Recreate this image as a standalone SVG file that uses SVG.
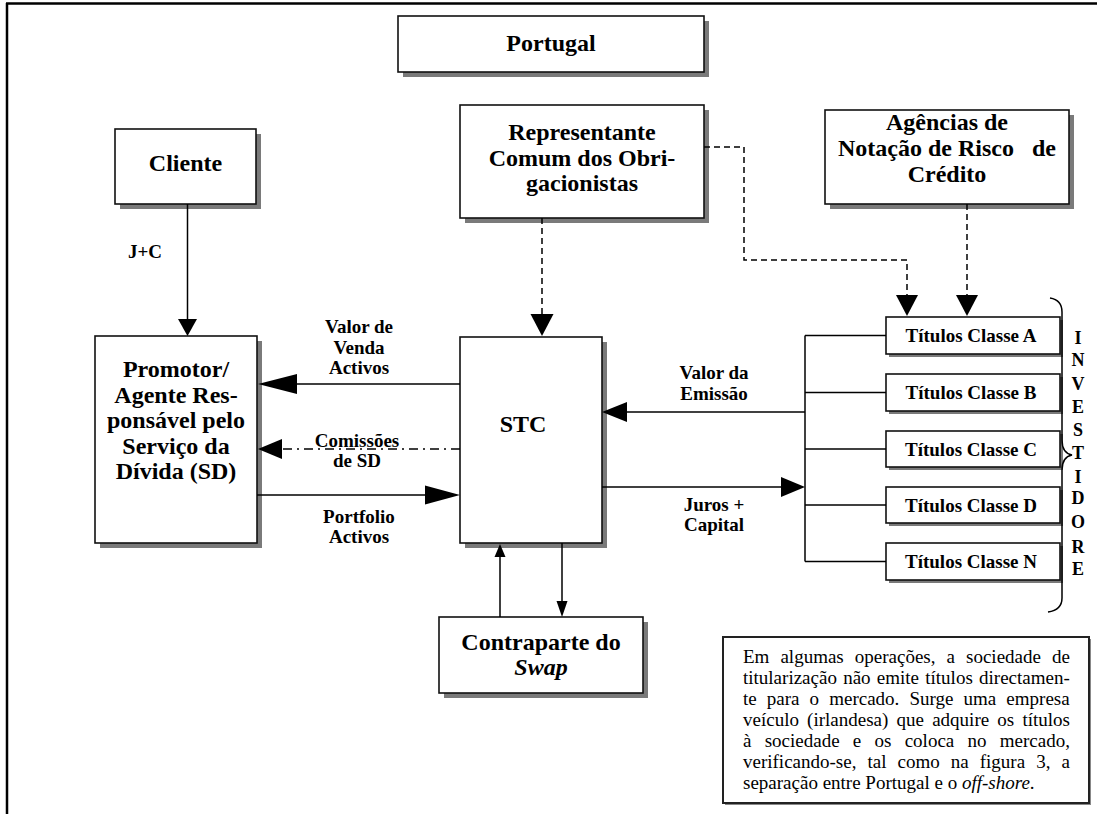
<svg xmlns="http://www.w3.org/2000/svg" width="1097" height="814" viewBox="0 0 1097 814">
<defs>
<style>
.box{fill:#fff;stroke:#111;stroke-width:1.6}
.sh{fill:#7a7a7a}
.t{font-family:"Liberation Serif","Times New Roman",serif;font-weight:bold;fill:#000;text-anchor:middle}
.h{font-size:24px}
.l{font-size:19px}
.ln{fill:none;stroke:#000;stroke-width:1.5}
.dash{stroke-dasharray:6,4}
.dd{stroke-dasharray:9,5,2,5}
.ah{fill:#000}
.note{font-family:"Liberation Serif","Times New Roman",serif;font-size:19px;fill:#000}
</style>
</defs>
<rect width="1097" height="814" fill="#fff"/>
<path d="M6,3.5 H1097 M7,3 V814" stroke="#000" stroke-width="2.5" fill="none"/>

<g id="portugal">
<rect class="sh" x="403" y="21" width="306" height="56"/>
<rect class="box" x="398" y="16" width="306" height="56"/>
<text class="t h" x="551" y="51">Portugal</text>
</g>

<g id="cliente">
<rect class="sh" x="120" y="134" width="141" height="75"/>
<rect class="box" x="115" y="129" width="141" height="75"/>
<text class="t h" x="185.5" y="171">Cliente</text>
</g>

<g id="representante">
<rect class="sh" x="465" y="110" width="244" height="113"/>
<rect class="box" x="460" y="105" width="244" height="113"/>
<text class="t h" x="582" y="140">Representante</text>
<text class="t h" x="582" y="165.5">Comum dos Obri-</text>
<text class="t h" x="582" y="191">gacionistas</text>
</g>

<g id="agencias">
<rect class="sh" x="830" y="115" width="244" height="94"/>
<rect class="box" x="825" y="110" width="244" height="94"/>
<text class="t h" x="947" y="130">Agências de</text>
<text class="t h" x="947" y="156" xml:space="preserve">Notação de Risco   de</text>
<text class="t h" x="947" y="182">Crédito</text>
</g>

<g id="promotor">
<rect class="sh" x="100" y="341" width="162" height="207"/>
<rect class="box" x="95" y="336" width="162" height="207"/>
<text class="t h" x="176" y="377">Promotor/</text>
<text class="t h" x="176" y="402.5">Agente Res-</text>
<text class="t h" x="176" y="428">ponsável pelo</text>
<text class="t h" x="176" y="453.5">Serviço da</text>
<text class="t h" x="176" y="479">Dívida (SD)</text>
</g>

<g id="stc">
<rect class="sh" x="465" y="342" width="142" height="206"/>
<rect class="box" x="460" y="337" width="142" height="206"/>
<text class="t h" x="523" y="432">STC</text>
</g>

<g id="contraparte">
<rect class="sh" x="444" y="622" width="204" height="76"/>
<rect class="box" x="439" y="617" width="204" height="76"/>
<text class="t h" x="541" y="650">Contraparte do</text>
<text class="t h" x="541" y="675" font-style="italic">Swap</text>
</g>

<g id="titulos-a">
<rect class="sh" x="889" y="320" width="174" height="37"/>
<rect class="box" x="886" y="317" width="174" height="37"/>
<text class="t l" x="971" y="342">Títulos Classe A</text>
</g>
<g id="titulos-b">
<rect class="sh" x="889" y="377" width="174" height="37"/>
<rect class="box" x="886" y="374" width="174" height="37"/>
<text class="t l" x="971" y="399">Títulos Classe B</text>
</g>
<g id="titulos-c">
<rect class="sh" x="889" y="434" width="174" height="36"/>
<rect class="box" x="886" y="431" width="174" height="36"/>
<text class="t l" x="971" y="455.5">Títulos Classe C</text>
</g>
<g id="titulos-d">
<rect class="sh" x="889" y="490" width="174" height="36"/>
<rect class="box" x="886" y="487" width="174" height="36"/>
<text class="t l" x="971" y="511.5">Títulos Classe D</text>
</g>
<g id="titulos-n">
<rect class="sh" x="889" y="546" width="174" height="37"/>
<rect class="box" x="886" y="543" width="174" height="37"/>
<text class="t l" x="971" y="568">Títulos Classe N</text>
</g>

<g id="investidores">
<path class="ln" d="M1050,298 Q1062,300 1062,312 V440 Q1062,453 1072,455 Q1062,457 1062,470 V598 Q1062,610 1048,612"/>
<text class="t" font-size="18" x="1078" y="344">I</text>
<text class="t" font-size="18" x="1078" y="366">N</text>
<text class="t" font-size="18" x="1078" y="390">V</text>
<text class="t" font-size="18" x="1078" y="413">E</text>
<text class="t" font-size="18" x="1078" y="436">S</text>
<text class="t" font-size="18" x="1078" y="459">T</text>
<text class="t" font-size="18" x="1078" y="483">I</text>
<text class="t" font-size="18" x="1078" y="504">D</text>
<text class="t" font-size="18" x="1078" y="528">O</text>
<text class="t" font-size="18" x="1078" y="553">R</text>
<text class="t" font-size="18" x="1078" y="575">E</text>
</g>

<g id="nota">
<rect x="725" y="639" width="366" height="166" fill="#888"/>
<rect x="723" y="637" width="366" height="166" fill="#fff" stroke="#222" stroke-width="2"/>
<text class="note" x="743" y="663" word-spacing="6.3">Em algumas operações, a sociedade de</text>
<text class="note" x="743" y="684" word-spacing="1.5">titularização não emite títulos directamen-</text>
<text class="note" x="743" y="705" word-spacing="5.35">te para o mercado. Surge uma empresa</text>
<text class="note" x="743" y="726" word-spacing="3.45">veículo (irlandesa) que adquire os títulos</text>
<text class="note" x="743" y="747" word-spacing="8.5">à sociedade e os coloca no mercado,</text>
<text class="note" x="743" y="768" word-spacing="6.3">verificando-se, tal como na figura 3, a</text>
<text class="note" x="743" y="789">separação entre Portugal e o <tspan font-style="italic">off-shore</tspan>.</text>
</g>

<g id="connectors">
<!-- Cliente -> Promotor -->
<line class="ln" x1="187.5" y1="204" x2="187.5" y2="322"/>
<polygon class="ah" points="178,319 197,319 187.5,336"/>
<text class="t l" x="145" y="258">J+C</text>

<!-- Representante -> STC -->
<line class="ln dash" x1="542" y1="218" x2="542" y2="316"/>
<polygon class="ah" points="530.5,314 553.5,314 542,336"/>

<!-- Representante -> Titulos A -->
<polyline class="ln dash" points="704,147 744,147 744,260 907,260 907,297"/>
<polygon class="ah" points="896,295 918,295 907,316"/>

<!-- Agencias -> Titulos A -->
<line class="ln dash" x1="967" y1="204" x2="967" y2="297"/>
<polygon class="ah" points="956,295 978,295 967,316"/>

<!-- STC -> Promotor : Valor de Venda Activos -->
<line class="ln" x1="460" y1="384" x2="290" y2="384"/>
<polygon class="ah" points="297,374 297,394 258,384"/>
<text class="t l" x="359" y="333">Valor de</text>
<text class="t l" x="359" y="354">Venda</text>
<text class="t l" x="359" y="374">Activos</text>

<!-- STC -> Promotor : Comissoes -->
<line class="ln dd" x1="460" y1="449" x2="280" y2="449"/>
<polygon class="ah" points="282,439 282,459 258,449"/>
<text class="t l" x="357" y="447">Comissões</text>
<text class="t l" x="357" y="467">de SD</text>

<!-- Promotor -> STC : Portfolio Activos -->
<line class="ln" x1="257" y1="495" x2="428" y2="495"/>
<polygon class="ah" points="425,485.5 425,504.5 460,495"/>
<text class="t l" x="359" y="523">Portfolio</text>
<text class="t l" x="359" y="543">Activos</text>

<!-- Titulos bus -->
<line class="ln" x1="805" y1="335.5" x2="805" y2="561.5"/>
<line class="ln" x1="805" y1="335.5" x2="886" y2="335.5"/>
<line class="ln" x1="805" y1="392.5" x2="886" y2="392.5"/>
<line class="ln" x1="805" y1="449" x2="886" y2="449"/>
<line class="ln" x1="805" y1="505" x2="886" y2="505"/>
<line class="ln" x1="805" y1="561.5" x2="886" y2="561.5"/>

<!-- Titulos -> STC : Valor da Emissao -->
<line class="ln" x1="805" y1="412" x2="622" y2="412"/>
<polygon class="ah" points="627,402 627,422 602,412"/>
<text class="t l" x="714" y="379">Valor da</text>
<text class="t l" x="714" y="400">Emissão</text>

<!-- STC -> Titulos : Juros + Capital -->
<line class="ln" x1="602" y1="487" x2="785" y2="487"/>
<polygon class="ah" points="781,477 781,497 805,487"/>
<text class="t l" x="714" y="511">Juros +</text>
<text class="t l" x="714" y="531">Capital</text>

<!-- Contraparte -> STC -->
<line class="ln" x1="500" y1="617" x2="500" y2="554"/>
<polygon class="ah" points="494.5,557 505.5,557 500,544"/>
<!-- STC -> Contraparte -->
<line class="ln" x1="562" y1="543" x2="562" y2="603"/>
<polygon class="ah" points="556.5,601 567.5,601 562,617"/>
</g>
</svg>
